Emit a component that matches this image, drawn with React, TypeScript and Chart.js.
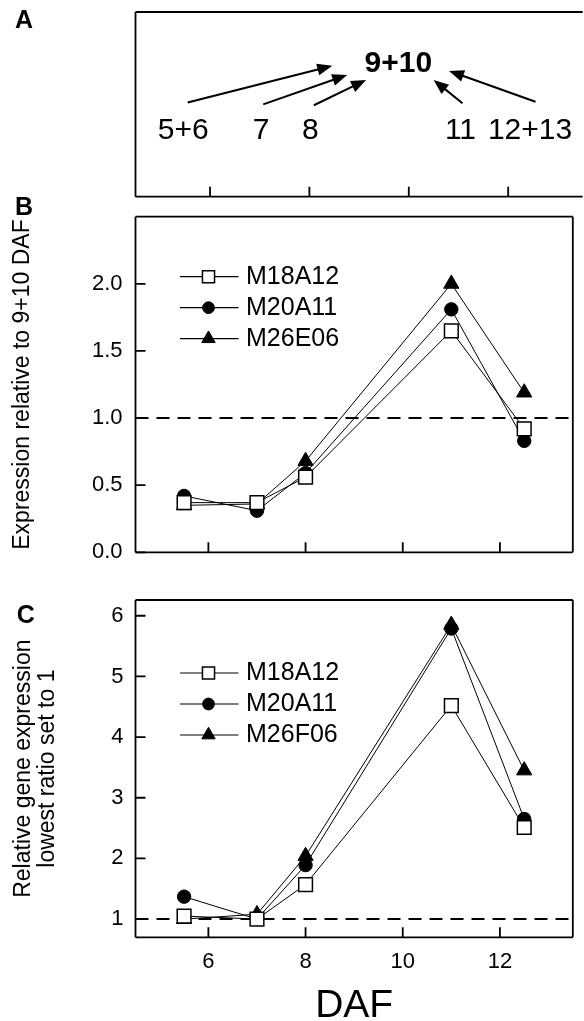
import React, { useEffect, useRef } from 'react';
import { Chart, registerables } from 'chart.js';
import { drawPoint } from 'chart.js/helpers';

Chart.register(...registerables);

const FONT = '"Liberation Sans", Arial, Helvetica, sans-serif';
Chart.defaults.font.family = FONT;
Chart.defaults.color = '#000';

// ---- data ----
const DAF = [5.5, 7, 8, 11, 12.5];
const X_TICKS = [6, 8, 10, 12];
const X_MIN = 4.5;
const X_MAX = 13.5;

const B_NAMES = ['M18A12', 'M20A11', 'M26E06'];
const B_M18A12 = [0.37, 0.37, 0.56, 1.65, 0.92];
const B_M20A11 = [0.42, 0.31, 0.59, 1.81, 0.83];
const B_M26E06 = [0.35, 0.36, 0.68, 2.0, 1.19];
const B_Y_TICKS = [0, 0.5, 1.0, 1.5, 2.0];
const B_Y_MIN = 0;
const B_Y_MAX = 2.5;

const C_NAMES = ['M18A12', 'M20A11', 'M26F06'];
const C_M18A12 = [1.05, 1.0, 1.57, 4.52, 2.51];
const C_M20A11 = [1.37, 1.0, 1.89, 5.79, 2.65];
const C_M26F06 = [1.0, 1.08, 2.04, 5.85, 3.45];
const C_Y_TICKS = [1, 2, 3, 4, 5, 6];
const C_Y_MIN = 0.7;
const C_Y_MAX = 6.26;

const REF_LEVEL = 1;

const A_LABELS = ['5+6', '7', '8', '11', '12+13'];
const A_LABEL_X = [5.46, 7.03, 8.02, 11.04, 12.44];
const A_LABEL_Y = 0.358;
const A_CENTER_LABEL = '9+10';
const A_CENTER_X = 9.79;
const A_CENTER_Y = 0.721;
const ARROW_FROM_X = [5.55, 7.07, 8.09, 11.08, 12.55];
const ARROW_FROM_Y = [0.51, 0.5, 0.495, 0.506, 0.514];
const ARROW_TO_X = [8.46, 8.76, 9.14, 10.5, 10.81];
const ARROW_TO_Y = [0.709, 0.659, 0.632, 0.632, 0.681];

const toXY = (vals: number[]) => DAF.map((x, i) => ({ x, y: vals[i] }));

const makeSets = (names: string[], series: number[][]) =>
  [
    { label: names[0], data: toXY(series[0]), pointStyle: 'rect', pointRadius: 9.7, pointBackgroundColor: '#fff', pointBorderWidth: 1.5 },
    { label: names[1], data: toXY(series[1]), pointStyle: 'circle', pointRadius: 6.7, pointBackgroundColor: '#000', pointBorderWidth: 1 },
    { label: names[2], data: toXY(series[2]), pointStyle: 'triangle', pointRadius: 8.8, pointBackgroundColor: '#000', pointBorderWidth: 1 },
  ].map((d) => ({
    ...d,
    showLine: true,
    borderColor: '#000',
    borderWidth: 1,
    pointBorderColor: '#000',
    pointHoverRadius: d.pointRadius,
    tension: 0,
  }));

const framePlugin = {
  id: 'frame',
  beforeDatasetsDraw(chart: any, _a: any, o: any) {
    if (o.dashY === null || o.dashY === undefined) return;
    const { ctx, chartArea: ca } = chart;
    const y = chart.scales.y.getPixelForValue(o.dashY);
    ctx.save();
    ctx.strokeStyle = '#000';
    ctx.lineWidth = 2;
    ctx.setLineDash([13, 8]);
    ctx.beginPath();
    ctx.moveTo(ca.left, y);
    ctx.lineTo(ca.right, y);
    ctx.stroke();
    ctx.restore();
  },
  afterDraw(chart: any, _a: any, o: any) {
    const { ctx, chartArea: ca } = chart;
    const xs = chart.scales.x;
    const ys = chart.scales.y;
    ctx.save();
    ctx.strokeStyle = '#000';
    ctx.lineWidth = 1.8;
    ctx.setLineDash([]);
    ctx.beginPath();
    const s: string = o.sides || '';
    if (s.includes('l')) { ctx.moveTo(ca.left, ca.top); ctx.lineTo(ca.left, ca.bottom); }
    if (s.includes('t')) { ctx.moveTo(ca.left, ca.top); ctx.lineTo(ca.right, ca.top); }
    if (s.includes('r')) { ctx.moveTo(ca.right, ca.top); ctx.lineTo(ca.right, ca.bottom); }
    if (s.includes('b')) { ctx.moveTo(ca.left, ca.bottom); ctx.lineTo(ca.right, ca.bottom); }
    ctx.stroke();
    ctx.beginPath();
    (o.xTicks || []).forEach((v: number) => {
      const x = xs.getPixelForValue(v);
      ctx.moveTo(x, ca.bottom);
      ctx.lineTo(x, ca.bottom - 10);
    });
    (o.yTicks || []).forEach((v: number) => {
      const y = ys.getPixelForValue(v);
      ctx.moveTo(ca.left, y);
      ctx.lineTo(ca.left + 10, y);
    });
    ctx.stroke();

    if (o.letter) {
      ctx.fillStyle = '#000';
      ctx.font = `bold 25px ${FONT}`;
      ctx.textAlign = 'left';
      ctx.textBaseline = 'alphabetic';
      ctx.fillText(o.letter, o.letterX, o.letterY);
    }

    if (o.legend) {
      chart.data.datasets.forEach((ds: any, i: number) => {
        const y = ca.top + o.legend.top + i * o.legend.gap;
        ctx.strokeStyle = '#000';
        ctx.lineWidth = 1.2;
        ctx.beginPath();
        ctx.moveTo(ca.left + 44.5, y);
        ctx.lineTo(ca.left + 103, y);
        ctx.stroke();
        ctx.fillStyle = ds.pointBackgroundColor;
        ctx.lineWidth = ds.pointBorderWidth;
        drawPoint(ctx, { pointStyle: ds.pointStyle, radius: ds.pointRadius * 0.88, rotation: 0, borderWidth: ds.pointBorderWidth } as any, ca.left + 73, y);
        ctx.fillStyle = '#000';
        ctx.font = `25px ${FONT}`;
        ctx.textAlign = 'left';
        ctx.textBaseline = 'middle';
        ctx.fillText(ds.label, ca.left + 110.5, y);
      });
    }

    if (o.annotate) {
      ctx.fillStyle = '#000';
      ctx.textAlign = 'center';
      ctx.textBaseline = 'middle';
      ctx.font = `30px ${FONT}`;
      A_LABELS.forEach((t, i) => {
        ctx.fillText(t, xs.getPixelForValue(A_LABEL_X[i]), ys.getPixelForValue(A_LABEL_Y));
      });
      ctx.font = `bold 30px ${FONT}`;
      ctx.fillText(A_CENTER_LABEL, xs.getPixelForValue(A_CENTER_X), ys.getPixelForValue(A_CENTER_Y));
      ARROW_FROM_X.forEach((_, i) => {
        const x0 = xs.getPixelForValue(ARROW_FROM_X[i]);
        const y0 = ys.getPixelForValue(ARROW_FROM_Y[i]);
        const x1 = xs.getPixelForValue(ARROW_TO_X[i]);
        const y1 = ys.getPixelForValue(ARROW_TO_Y[i]);
        const ang = Math.atan2(y1 - y0, x1 - x0);
        const L = 15;
        const W = 6;
        const cx = Math.cos(ang);
        const sy = Math.sin(ang);
        const bx = x1 - L * cx;
        const by = y1 - L * sy;
        ctx.lineWidth = 2;
        ctx.beginPath();
        ctx.moveTo(x0, y0);
        ctx.lineTo(bx + 2 * cx, by + 2 * sy);
        ctx.stroke();
        ctx.beginPath();
        ctx.moveTo(x1, y1);
        ctx.lineTo(bx - W * sy, by + W * cx);
        ctx.lineTo(bx + W * sy, by - W * cx);
        ctx.closePath();
        ctx.fill();
      });
    }
    ctx.restore();
  },
};

export default function App() {
  const refA = useRef<HTMLCanvasElement>(null);
  const refB = useRef<HTMLCanvasElement>(null);
  const refC = useRef<HTMLCanvasElement>(null);

  useEffect(() => {
    const charts: Chart[] = [];

    charts.push(
      new Chart(refA.current as HTMLCanvasElement, {
        type: 'scatter',
        data: { datasets: [] },
        plugins: [framePlugin],
        options: {
          animation: false,
          responsive: false,
          layout: { padding: { top: 12, right: 1.3, bottom: 13.3, left: 135.5 } },
          plugins: {
            legend: { display: false },
            tooltip: { enabled: false },
            frame: { sides: 'ltb', xTicks: X_TICKS, letter: 'A', letterX: 15, letterY: 28.3, annotate: true },
          } as any,
          scales: {
            x: { type: 'linear', min: X_MIN, max: X_MAX, display: false },
            y: { type: 'linear', min: 0, max: 1, display: false },
          },
        },
      } as any)
    );

    charts.push(
      new Chart(refB.current as HTMLCanvasElement, {
        type: 'scatter',
        data: { datasets: makeSets(B_NAMES, [B_M18A12, B_M20A11, B_M26E06]) as any },
        plugins: [framePlugin],
        options: {
          animation: false,
          responsive: false,
          layout: { padding: { top: 36.7, right: 1.3, bottom: 37.7, left: 0 } },
          plugins: {
            legend: { display: false },
            tooltip: { enabled: false },
            frame: {
              sides: 'ltrb', xTicks: X_TICKS, yTicks: B_Y_TICKS, dashY: REF_LEVEL,
              letter: 'B', letterX: 15, letterY: 35, legend: { top: 60, gap: 31 },
            },
          } as any,
          scales: {
            x: { type: 'linear', min: X_MIN, max: X_MAX, display: false },
            y: {
              type: 'linear',
              min: B_Y_MIN,
              max: B_Y_MAX,
              afterBuildTicks: (s: any) => { s.ticks = B_Y_TICKS.map((v) => ({ value: v })); },
              afterFit: (s: any) => { s.width = 135.5; },
              ticks: { callback: (v: any) => Number(v).toFixed(1), font: { size: 22 }, color: '#000', padding: 13 },
              grid: { display: false, drawTicks: false },
              border: { display: false },
              title: { display: true, text: 'Expression relative to 9+10 DAF', color: '#000', font: { size: 23 }, padding: { top: 9.2, bottom: 0 } },
            } as any,
          },
        },
      } as any)
    );

    charts.push(
      new Chart(refC.current as HTMLCanvasElement, {
        type: 'scatter',
        data: { datasets: makeSets(C_NAMES, [C_M18A12, C_M20A11, C_M26F06]) as any },
        plugins: [framePlugin],
        options: {
          animation: false,
          responsive: false,
          layout: { padding: { top: 40, right: 1.3, bottom: 0, left: 0 } },
          plugins: {
            legend: { display: false },
            tooltip: { enabled: false },
            frame: {
              sides: 'ltrb', xTicks: X_TICKS, yTicks: C_Y_TICKS, dashY: REF_LEVEL,
              letter: 'C', letterX: 16.8, letterY: 63.3, legend: { top: 73, gap: 31 },
            },
          } as any,
          scales: {
            x: {
              type: 'linear',
              min: X_MIN,
              max: X_MAX,
              afterBuildTicks: (s: any) => { s.ticks = X_TICKS.map((v) => ({ value: v })); },
              afterFit: (s: any) => { s.height = 83.7; },
              ticks: { font: { size: 22 }, color: '#000', padding: 11.5, maxRotation: 0, autoSkip: false },
              grid: { display: false, drawTicks: false },
              border: { display: false },
              title: { display: true, text: 'DAF', color: '#000', font: { size: 39, lineHeight: 0.78 }, padding: { top: 0, bottom: 0 } },
            } as any,
            y: {
              type: 'linear',
              min: C_Y_MIN,
              max: C_Y_MAX,
              afterBuildTicks: (s: any) => { s.ticks = C_Y_TICKS.map((v) => ({ value: v })); },
              afterFit: (s: any) => { s.width = 135.5; },
              ticks: { font: { size: 22 }, color: '#000', padding: 12 },
              grid: { display: false, drawTicks: false },
              border: { display: false },
              title: {
                display: true,
                text: ['Relative gene expression', 'lowest ratio set to 1'],
                color: '#000',
                font: { size: 23, lineHeight: 1.05 },
                padding: { top: 11.2, bottom: 0 },
              },
            } as any,
          },
        },
      } as any)
    );

    return () => charts.forEach((c) => c.destroy());
  }, []);

  const cs = (top: number, h: number): React.CSSProperties => ({ position: 'absolute', left: 0, top, width: 584, height: h });

  return (
    <div style={{ position: 'absolute', left: 0, top: 0, width: 584, height: 1021, background: '#fff', overflow: 'hidden' }}>
      <canvas ref={refA} width={584} height={210} style={cs(0, 210)} />
      <canvas ref={refB} width={584} height={410} style={cs(180, 410)} />
      <canvas ref={refC} width={584} height={461} style={cs(560, 461)} />
    </div>
  );
}
